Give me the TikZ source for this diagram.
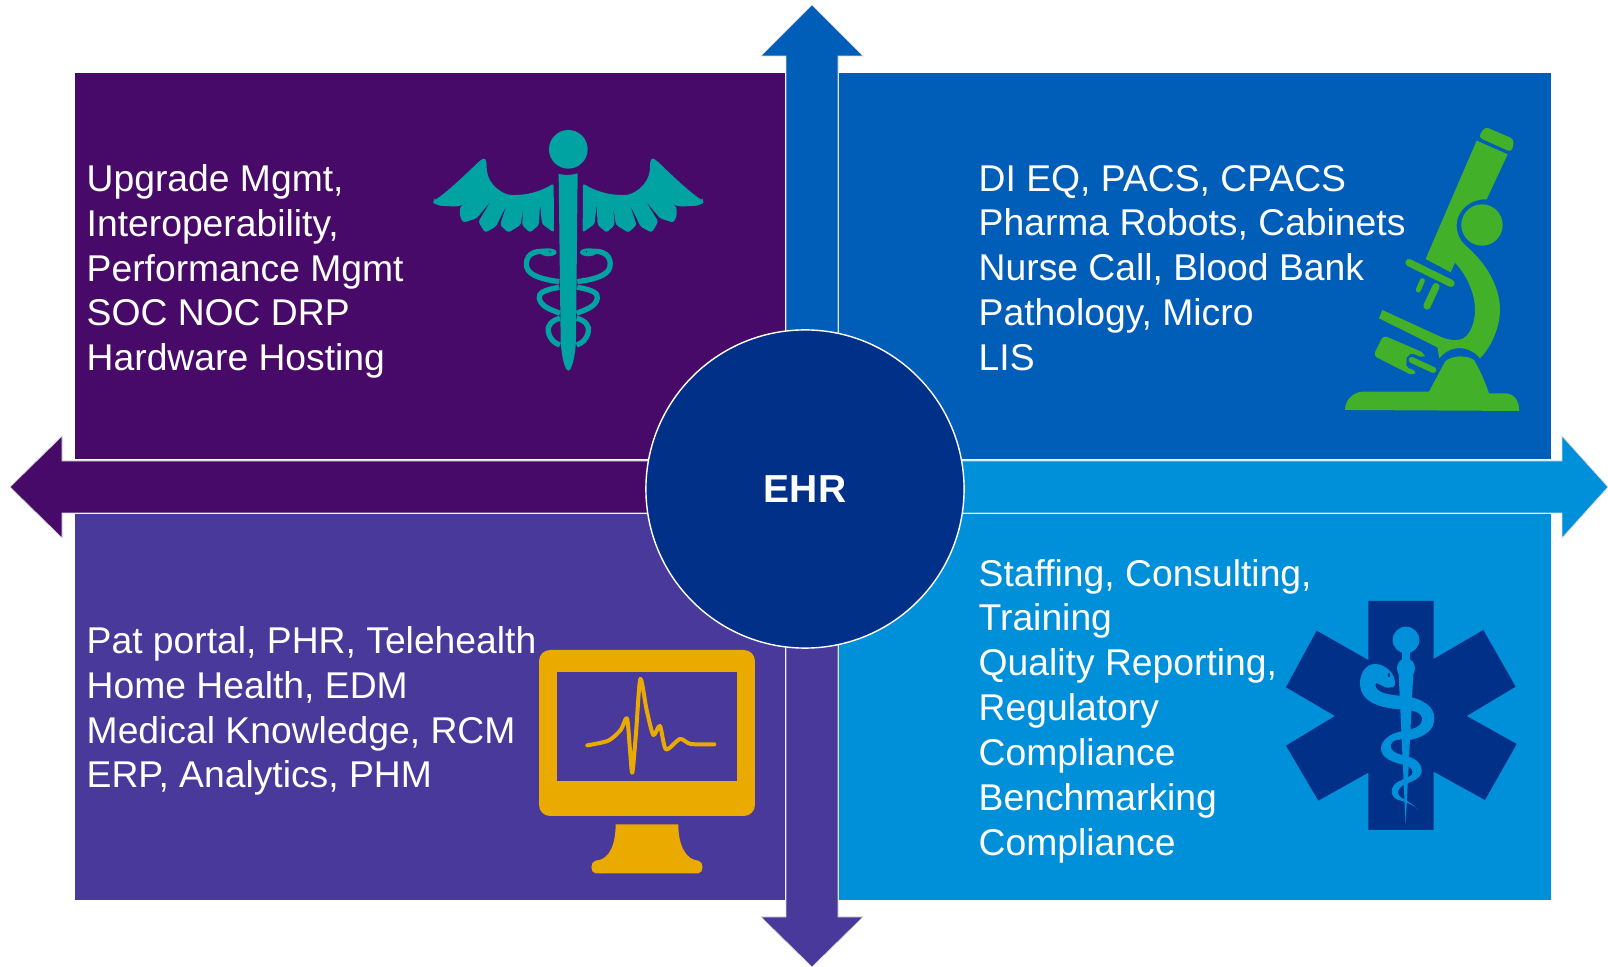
\documentclass[tikz,border=0pt]{standalone}
\usepackage{fontspec}
\usepackage{xcolor}
\usepackage{tikz}
\setmainfont{Liberation Sans}
\definecolor{darkplum}{HTML}{470A68}
\definecolor{midviolet}{HTML}{48399A}
\definecolor{royalblue}{HTML}{005EB8}
\definecolor{skyblue}{HTML}{0090DA}
\definecolor{navyblue}{HTML}{003087}
\definecolor{tealicon}{HTML}{00A3A1}
\definecolor{greenicon}{HTML}{43B02A}
\definecolor{goldicon}{HTML}{EAAA00}

\begin{document}
\begin{tikzpicture}[x=0.01cm, y=-0.01cm]
    % Define styles
    \tikzstyle{quadrant} = [rectangle, anchor=north west, inner sep=0pt, outer sep=0pt, minimum width=7.1cm, minimum height=3.86cm]
    \tikzstyle{quadtext} = [anchor=west, inner sep=0pt, align=left, text=white, font=\fontsize{10.6}{12.75}\selectfont]
    \tikzstyle{hub} = [circle, minimum size=3.18cm, inner sep=0pt, fill=navyblue, draw=white, line width=0.4pt, text=white, font=\fontsize{11.1}{13}\selectfont\bfseries]
    \tikzstyle{bigarrow} = [draw=white!70!gray, line width=0.2pt]

    \useasboundingbox (0,0) rectangle (1608,967);

    % Direction arrows
    \draw [bigarrow, fill=royalblue] (786,489) -- (786,56) -- (761,56) -- (812,5) -- (863,56) -- (838,56) -- (838,489) -- cycle;
    \draw [bigarrow, fill=midviolet] (786,489) -- (786,917) -- (761,917) -- (812,967) -- (863,917) -- (838,917) -- (838,489) -- cycle;
    \draw [bigarrow, fill=darkplum] (805,461) -- (62,461) -- (62,436) -- (10,487) -- (62,538) -- (62,513) -- (805,513) -- cycle;
    \draw [bigarrow, fill=skyblue] (805,461) -- (1562,461) -- (1562,436) -- (1608,487) -- (1562,538) -- (1562,513) -- (805,513) -- cycle;

    % Quadrants
    \node (upgradebox) [quadrant, fill=darkplum, minimum width=7.1cm] at (75,73) {};
    \node (imagingbox) [quadrant, fill=royalblue, minimum width=7.12cm] at (839,73) {};
    \node (portalbox) [quadrant, fill=midviolet, minimum width=7.1cm] at (75,514) {};
    \node (staffingbox) [quadrant, fill=skyblue, minimum width=7.12cm] at (839,514) {};

    % Centre
    \node (ehr) [hub] at (805,489) {EHR};

    % Texts
    \node (upgradetext) [quadtext] at (86,271.5) {Upgrade Mgmt,\\Interoperability,\\Performance Mgmt\\SOC NOC DRP\\Hardware Hosting};
    \node (imagingtext) [quadtext] at (978,268) {DI EQ, PACS, CPACS\\Pharma Robots, Cabinets\\Nurse Call, Blood Bank\\Pathology, Micro\\LIS};
    \node (portaltext) [quadtext] at (86,711) {Pat portal, PHR, Telehealth\\Home Health, EDM\\Medical Knowledge, RCM\\ERP, Analytics, PHM};
    \node (staffingtext) [quadtext] at (978,711) {Staffing, Consulting,\\Training\\Quality Reporting,\\Regulatory\\Compliance\\Benchmarking\\Compliance};

    % Caduceus
    \begin{scope}[shift={(420,110)}, scale=0.3333]
        \fill [tealicon] (445,118) circle (0.58cm);
        \fill [tealicon] (416,192) .. controls (435,196) and (455,196) .. (473,190) -- (468,690) .. controls (466,740) and (455,782) .. (445,782) .. controls (435,782) and (424,740) .. (422,690) -- cycle;
        \foreach \o/\s in {0/1, 890/-1} {
            \begin{scope}[shift={(\o,0)}, xscale=\s]
                \fill [tealicon, rounded corners=0.25mm] (42,272) .. controls (90,240) and (150,180) .. (180,152) .. controls (195,142) and (200,150) .. (200,175) .. controls (205,225) and (250,256) .. (285,255) .. controls (330,254) and (370,240) .. (401,220) -- (402,368) -- (366,342) -- (360,282) -- (357,345) -- (330,368) -- (306,345) -- (311,288) -- (302,345) -- (265,368) -- (240,345) -- (260,285) -- (228,350) -- (195,368) -- (175,335) -- (213,273) -- (170,325) -- (130,338) -- (120,320) -- (120,292) -- (178,237) -- (122,288) .. controls (100,290) and (80,288) .. (65,288) .. controls (50,285) and (40,278) .. (42,272) -- cycle;
                \draw [tealicon, line width=0.53mm] (385,425) .. controls (335,418) and (315,440) .. (320,470) .. controls (325,500) and (380,510) .. (418,515);
                \draw [tealicon, line width=0.53mm] (418,532) .. controls (370,540) and (355,550) .. (358,565) .. controls (362,590) and (395,600) .. (420,610);
                \draw [tealicon, line width=0.53mm] (420,625) .. controls (395,630) and (380,650) .. (385,665) .. controls (390,690) and (405,700) .. (420,705);
                \fill [tealicon] (385,427) ellipse (0.25cm and 0.12cm);
                \fill [darkplum] (390,425) circle (0.02cm);
            \end{scope}
        }
    \end{scope}

    % Microscope
    \begin{scope}[shift={(1330,110)}, scale=0.3333]
        \fill [greenicon, rounded corners=0.4mm] (465,50) -- (553,88) -- (545,127) -- (445,82) -- cycle;
        \fill [greenicon] (456,345) circle (0.62cm);
        \fill [greenicon] (440,92) -- (533,133) -- (470,268) .. controls (425,265) and (380,300) .. (380,345) .. controls (380,370) and (390,392) .. (405,405) .. controls (470,460) and (510,530) .. (510,600) .. controls (510,650) and (485,710) .. (450,745) .. controls (430,720) and (400,712) .. (380,715) .. controls (360,716) and (340,730) .. (328,745) -- (322,712) -- (147,625) -- (157,600) -- (320,675) .. controls (350,690) and (380,695) .. (400,685) .. controls (425,670) and (435,630) .. (435,600) .. controls (435,550) and (410,495) .. (375,458) -- (362,487) -- (287,447) -- cycle;
        \draw [greenicon, line width=0.73mm, line cap=round] (237,458) -- (363,520);
        \draw [greenicon, line width=0.5mm, line cap=round] (277,512) -- (265,540);
        \draw [greenicon, line width=0.73mm, line cap=round] (318,530) -- (291,588);
        \fill [greenicon, rounded corners=0.4mm] (160,676) -- (285,730) -- (282,745) -- (240,727) -- (225,770) -- (262,785) -- (248,797) -- (130,737) -- cycle;
        \draw [royalblue, line width=1.1mm, line cap=round] (245,750) -- (320,785);
        \draw [greenicon, line width=0.6mm, line cap=round] (245,750) -- (310,780);
        \fill [greenicon] (45,900) .. controls (45,870) and (70,845) .. (100,845) -- (297,845) -- (345,755) .. controls (365,735) and (410,735) .. (432,750) .. controls (450,780) and (465,815) .. (477,850) -- (525,850) .. controls (550,850) and (568,870) .. (568,903) -- cycle;
    \end{scope}

    % Monitor
    \begin{scope}[shift={(530,640)}, scale=0.3333]
        \fill [goldicon, rounded corners=1.1mm] (27,30) rectangle (675,528);
        \fill [midviolet] (82,95) rectangle (620,423);
        \draw [goldicon, line width=0.4mm, line join=round, line cap=round] plot [smooth, tension=0.45] coordinates {(172,316) (235,302) (272,270) (291,235) (300,330) (307,398) (318,280) (331,117) (350,210) (370,285) (390,258) (408,328) (450,297) (482,312) (553,313)};
        \fill [goldicon] (257,553) -- (445,553) .. controls (445,620) and (470,660) .. (505,662) .. controls (522,664) and (522,700) .. (505,700) -- (197,700) .. controls (180,700) and (180,664) .. (197,662) .. controls (240,660) and (257,610) .. (257,553) -- cycle;
    \end{scope}

    % Star of life
    \begin{scope}[shift={(1270,590)}, scale=0.3333]
        \fill [navyblue] (295,210) -- (140,122) -- (48,292) -- (195,378) -- (48,467) -- (145,632) -- (295,548) -- (295,720) -- (491,720) -- (491,545) -- (645,630) -- (740,462) -- (590,378) -- (737,290) -- (640,120) -- (491,207) -- (491,33) -- (295,33) -- cycle;
        \fill [skyblue] (408,150) circle (0.4cm);
        \fill [skyblue] (395,180) rectangle (420,210);
        \fill [skyblue] (408,235) ellipse (0.27cm and 0.3cm);
        \fill [skyblue] (386,250) -- (430,250) -- (407,705) -- cycle;
        \fill [skyblue] (375,285) .. controls (378,250) and (345,222) .. (315,222) .. controls (285,222) and (268,255) .. (270,285) .. controls (272,330) and (320,355) .. (395,358) .. controls (435,360) and (457,370) .. (457,388) .. controls (457,408) and (430,420) .. (390,425) .. controls (355,432) and (333,455) .. (333,475) .. controls (333,505) and (370,518) .. (405,525) .. controls (425,530) and (432,545) .. (425,555) .. controls (415,565) and (385,570) .. (372,585) .. controls (358,600) and (365,625) .. (385,630) .. controls (405,635) and (435,645) .. (443,660) .. controls (430,640) and (400,628) .. (390,620) .. controls (378,608) and (385,595) .. (400,585) .. controls (425,575) and (457,565) .. (455,540) .. controls (453,510) and (420,500) .. (395,495) .. controls (375,490) and (360,480) .. (362,465) .. controls (365,450) and (390,445) .. (420,450) .. controls (465,440) and (493,420) .. (493,385) .. controls (493,350) and (460,325) .. (400,318) .. controls (360,315) and (318,310) .. (316,285) .. controls (316,270) and (335,290) .. (350,293) .. controls (365,293) and (375,290) .. (375,285) -- cycle;
        \fill [navyblue] (357,255) ellipse (0.036cm and 0.06cm);
    \end{scope}
\end{tikzpicture}
\end{document}
